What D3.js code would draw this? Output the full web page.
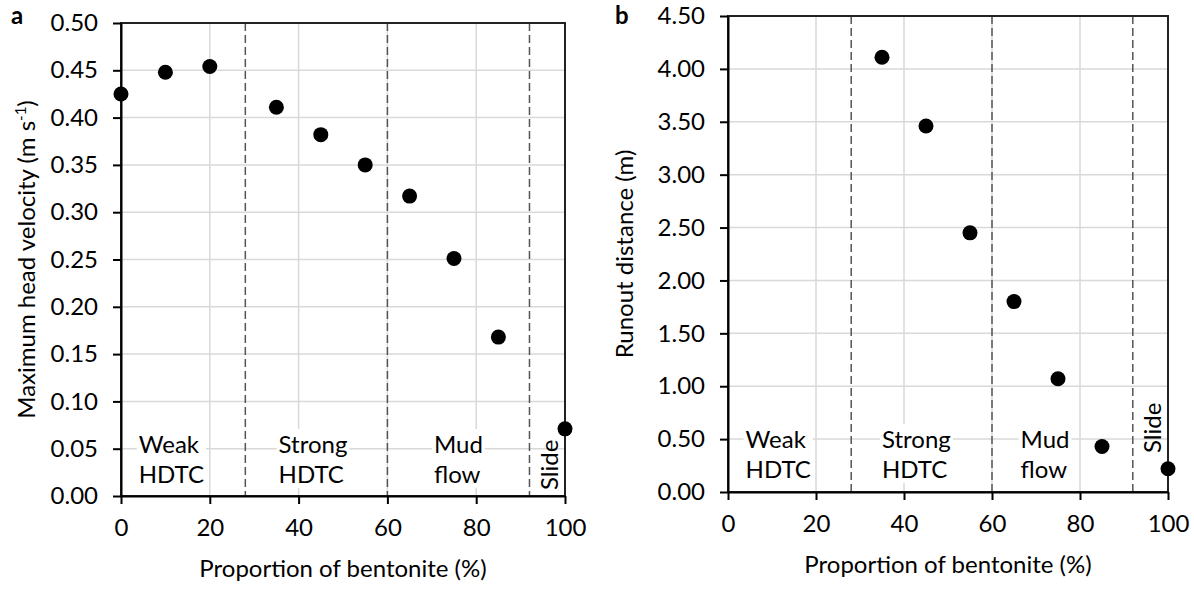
<!DOCTYPE html>
<html>
<head>
<meta charset="utf-8">
<script src="https://cdn.jsdelivr.net/npm/d3@7"></script>
<style>
  body { margin: 0; background: #fff; }
  text { font-family: Lato, "Open Sans", sans-serif; fill: #000; }
</style>
</head>
<body>
<div id="chart"></div>
<script>
// data
var bentoniteA = [0, 10, 20, 35, 45, 55, 65, 75, 85, 100];
var velocity = [0.425, 0.448, 0.454, 0.411, 0.382, 0.350, 0.317, 0.251, 0.168, 0.071];
var bentoniteB = [35, 45, 55, 65, 75, 85, 100];
var runout = [4.11, 3.46, 2.45, 1.80, 1.07, 0.43, 0.22];

// regime boundaries (dashed lines) and labels
var regimeBounds = [28, 60, 92];
var regimeNames = [["Weak", "HDTC"], ["Strong", "HDTC"], ["Mud", "flow"]];
var regimeLabelXA = [4, 35.5, 70.5];
var regimeLabelXB = [4, 35, 66.5];

var xTicks = [0, 20, 40, 60, 80, 100];
var yTicksA = [0, 0.05, 0.10, 0.15, 0.20, 0.25, 0.30, 0.35, 0.40, 0.45, 0.50];
var yTicksB = [0, 0.5, 1.0, 1.5, 2.0, 2.5, 3.0, 3.5, 4.0, 4.5];

var fs = "24px";

var svg = d3.select("#chart")
    .append("svg")
    .attr("width", 1194)
    .attr("height", 590);

function drawPanel(p) {
    var x = d3.scaleLinear().domain([0, 100]).range([p.left, p.right]);
    var y = d3.scaleLinear().domain([0, p.yMax]).range([p.bottom, p.top]);
    var g = svg.append("g");

    // grid
    g.selectAll(".gx").data(xTicks.slice(1, -1)).enter().append("line")
        .attr("x1", function (d) { return x(d); }).attr("x2", function (d) { return x(d); })
        .attr("y1", p.top).attr("y2", p.bottom)
        .attr("stroke", "#d9d9d9").attr("stroke-width", 1.5);
    g.selectAll(".gy").data(p.yTicks.slice(1, -1)).enter().append("line")
        .attr("x1", p.left).attr("x2", p.right)
        .attr("y1", function (d) { return y(d); }).attr("y2", function (d) { return y(d); })
        .attr("stroke", "#d9d9d9").attr("stroke-width", 1.5);

    // regime labels with white boxes
    regimeNames.forEach(function (lines, i) {
        var t = g.append("text")
            .attr("x", x(p.labelX[i]))
            .attr("y", p.labelY)
            .attr("font-size", fs);
        lines.forEach(function (s, j) {
            t.append("tspan").attr("x", x(p.labelX[i])).attr("dy", j === 0 ? 0 : 30).text(s);
        });
        var bb = t.node().getBBox();
        g.insert("rect", "text")
            .attr("x", bb.x - 2).attr("y", bb.y)
            .attr("width", bb.width + 4).attr("height", bb.height)
            .attr("fill", "#fff");
    });
    g.append("text")
        .attr("transform", "translate(" + (p.right - 7) + "," + p.slideY + ") rotate(-90)")
        .attr("font-size", fs)
        .text("Slide");

    // dashed boundaries
    g.selectAll(".bound").data(regimeBounds).enter().append("line")
        .attr("x1", function (d) { return x(d); }).attr("x2", function (d) { return x(d); })
        .attr("y1", p.top).attr("y2", p.bottom)
        .attr("stroke", "#555").attr("stroke-width", 1.5)
        .attr("stroke-dasharray", "8,4");

    // frame
    g.append("rect")
        .attr("x", p.left).attr("y", p.top)
        .attr("width", p.right - p.left).attr("height", p.bottom - p.top)
        .attr("fill", "none").attr("stroke", "#222").attr("stroke-width", 2);

    // axes
    var xAxis = d3.axisBottom(x).tickValues(xTicks).tickSize(8).tickSizeOuter(0).tickPadding(15);
    var yAxis = d3.axisLeft(y).tickValues(p.yTicks).tickSize(8).tickSizeOuter(0).tickPadding(15)
        .tickFormat(d3.format(".2f"));
    var gx = g.append("g").attr("transform", "translate(0," + p.bottom + ")").call(xAxis);
    var gy = g.append("g").attr("transform", "translate(" + p.left + ",0)").call(yAxis);
    [gx, gy].forEach(function (a) {
        a.select(".domain").attr("stroke", "#000").attr("stroke-width", 2);
        a.selectAll(".tick line").attr("stroke", "#000").attr("stroke-width", 2);
        a.selectAll(".tick text").attr("font-size", fs).attr("font-family", "Lato, sans-serif").attr("fill", "#000");
    });

    // points
    g.selectAll(".dot").data(p.xs).enter().append("circle")
        .attr("cx", function (d) { return x(d); })
        .attr("cy", function (d, i) { return y(p.ys[i]); })
        .attr("r", 7.5)
        .attr("fill", "#000");

    // titles
    g.append("text")
        .attr("x", (p.left + p.right) / 2)
        .attr("y", p.bottom + 81)
        .attr("text-anchor", "middle")
        .attr("font-size", fs)
        .text("Proportion of bentonite (%)");
    var yt = g.append("text")
        .attr("transform", "translate(" + p.yTitleX + "," + ((p.top + p.bottom) / 2) + ") rotate(-90)")
        .attr("text-anchor", "middle")
        .attr("font-size", fs);
    yt.append("tspan").text(p.yTitle);
    if (p.yUnitSup) {
        yt.append("tspan").text("(m s");
        yt.append("tspan").attr("dy", -9).attr("font-size", "15px").text("-1");
        yt.append("tspan").attr("dy", 9).text(")");
    }

    svg.append("text")
        .attr("x", p.letterX).attr("y", 24)
        .attr("font-size", "24px").attr("font-weight", "bold")
        .text(p.letter);
}

drawPanel({
    left: 121, right: 565, top: 23, bottom: 496,
    yMax: 0.5, yTicks: yTicksA,
    xs: bentoniteA, ys: velocity,
    labelX: regimeLabelXA, labelY: 453, slideY: 490,
    yTitle: "Maximum head velocity ", yUnitSup: true, yTitleX: 35,
    letter: "a", letterX: 11
});

drawPanel({
    left: 728, right: 1168, top: 16, bottom: 492,
    yMax: 4.5, yTicks: yTicksB,
    xs: bentoniteB, ys: runout,
    labelX: regimeLabelXB, labelY: 448, slideY: 453,
    yTitle: "Runout distance (m)", yUnitSup: false, yTitleX: 633,
    letter: "b", letterX: 615
});
</script>
</body>
</html>
